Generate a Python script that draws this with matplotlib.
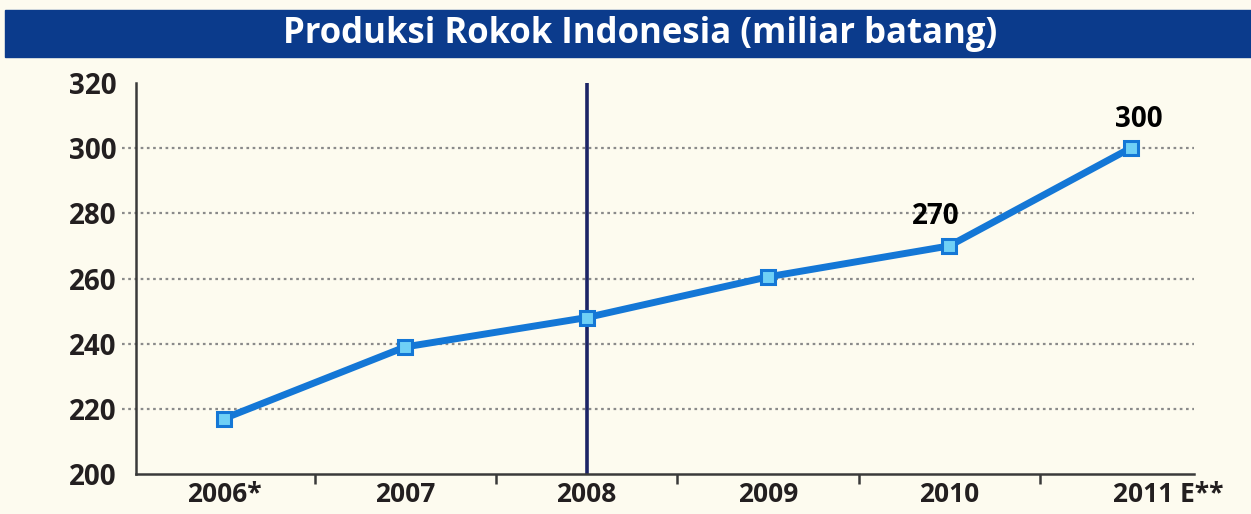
import numpy as np
import matplotlib
matplotlib.use('Agg')
import matplotlib.pyplot as plt
import matplotlib.transforms as mtransforms
from matplotlib.patches import Rectangle

# cigarette production, billions of sticks
years = ['2006*', '2007', '2008', '2009', '2010', '2011 E**']
production = [217, 239, 248, 260.5, 270, 300]
labelled = {4: '270', 5: '300'}
yticks = [200, 220, 240, 260, 280, 300, 320]
gridlines = [220, 240, 260, 280, 300]
title = 'Produksi Rokok Indonesia (miliar batang)'

bg = '#fdfbef'
navy = '#0b3b8c'
line_blue = '#1477d6'
text_col = '#231f20'

plt.rcParams['font.family'] = ['Open Sans', 'DejaVu Sans']

fig = plt.figure(figsize=(12.51, 5.14), dpi=100, facecolor=bg)

# title banner
fig.patches.append(Rectangle((0.004, 1 - 57 / 514), 0.996, 47 / 514,
                             transform=fig.transFigure, color=navy, zorder=0))
fig.text(0.512, 1 - 34 / 514, title, color='white', fontsize=25, fontweight='bold',
         ha='center', va='center')

ax = fig.add_axes([136 / 1251, 1 - 474 / 514, 1058 / 1251, 391 / 514])
ax.set_facecolor(bg)

x = np.arange(len(years))
ax.set_xlim(-0.485, 5.35)
ax.set_ylim(200, 320)

for g in gridlines:
    ax.plot([-0.013, 1.0], [g, g], transform=ax.get_yaxis_transform(), clip_on=False,
            color='#8a8a8a', linestyle=(0, (1.2, 1.6)), linewidth=1.6, zorder=1)

ax.axvline(2, color='#1c2466', linewidth=2.6, zorder=2)

ax.plot(x, production, color=line_blue, linewidth=5, zorder=3,
        marker='s', markersize=10, markerfacecolor='#6fd0f6',
        markeredgecolor=line_blue, markeredgewidth=2.2)

for i, txt in labelled.items():
    dx = -10 if i == 4 else 6
    ax.annotate(txt, (x[i], production[i]), xytext=(dx, 21), textcoords='offset points',
                ha='center', va='center', fontsize=20, fontweight='bold', color='black')

for s in ['top', 'right']:
    ax.spines[s].set_visible(False)
for s in ['left', 'bottom']:
    ax.spines[s].set_color('#3a3a3a')
    ax.spines[s].set_linewidth(1.8)

ax.set_yticks(yticks)
ax.tick_params(axis='y', length=0, pad=14, labelsize=20, labelcolor=text_col)
for lab in ax.get_yticklabels():
    lab.set_fontweight('bold')

ax.set_xticks(x)
ax.set_xticklabels(years)
ax.set_xticks(x[:-1] + 0.5, minor=True)
ax.tick_params(axis='x', which='major', length=0, pad=5, labelsize=19, labelcolor=text_col)
ax.tick_params(axis='x', which='minor', length=7, width=1.8, color='#3a3a3a', direction='out')
for lab in ax.get_xticklabels():
    lab.set_fontweight('bold')
last = ax.get_xticklabels()[-1]
last.set_transform(last.get_transform() + mtransforms.ScaledTranslation(0.38, 0, fig.dpi_scale_trans))

fig.savefig('out.png', dpi=100, facecolor=bg)
